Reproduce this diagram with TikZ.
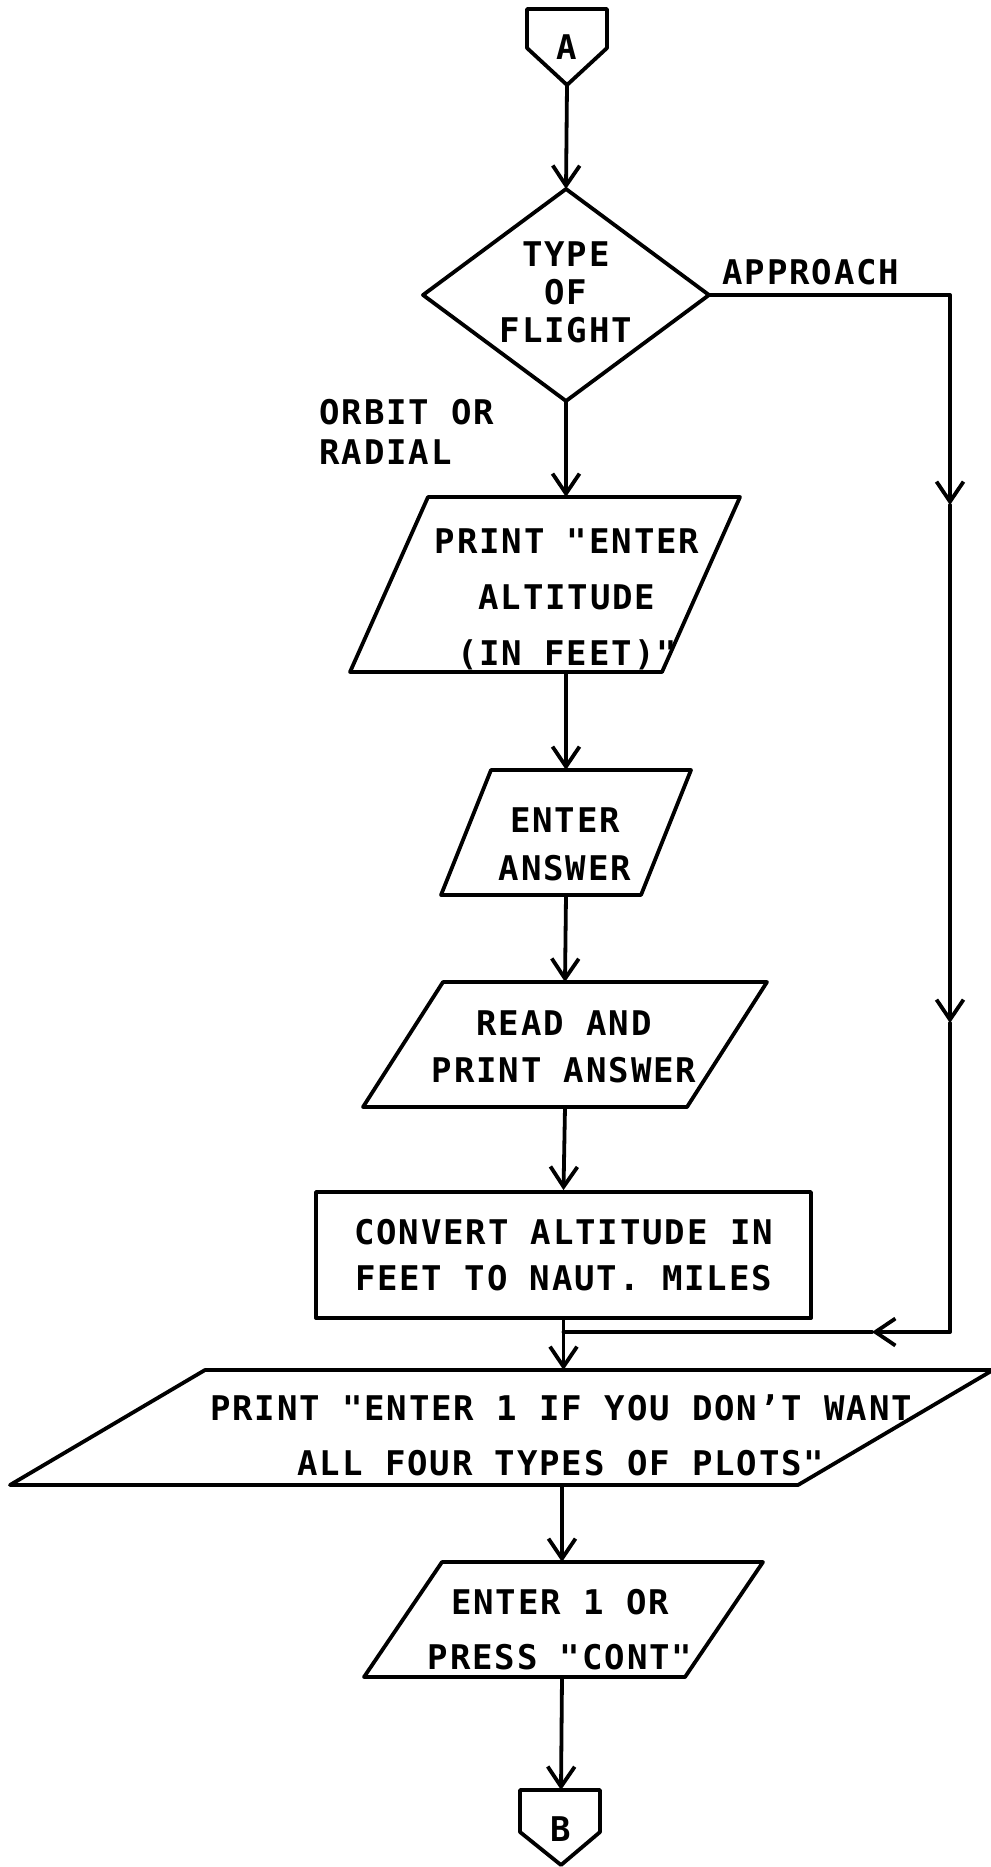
\documentclass[tikz,border=0pt]{standalone}
\usepackage{fontspec}
\usetikzlibrary{arrows.meta}
\newfontfamily\plotfont{DejaVu Sans Mono}[LetterSpace=5.5]

\tikzset{
  flow/.style={line width=1.9pt, line cap=round, line join=round},
  arr/.style={flow, -{Straight Barb[length=10pt,width=13.5pt]}},
  txt/.style={font=\plotfont\bfseries\fontsize{17pt}{#1}\selectfont,
              align=center, inner sep=0pt},
  txt/.default=20pt,
}

\begin{document}
\begin{tikzpicture}[x=0.5pt,y=-0.5pt]
\useasboundingbox (0,0) rectangle (990,1867);

% off-page connector A
\draw[flow] (527,9) -- (607,9) -- (607,48) -- (567,85) -- (527,48) -- cycle;
\node[txt] (A) at (567,47) {A};
\coordinate (A-out) at (567,85);

% decision: type of flight
\coordinate (d-top) at (566,189);
\coordinate (d-right) at (709,295);
\coordinate (d-bot) at (566,401);
\coordinate (d-left) at (423,295);
\draw[flow] (d-top) -- (d-right) -- (d-bot) -- (d-left) -- cycle;
\node[txt=19pt] (type) at (566,292) {TYPE\\OF\\FLIGHT};

\node[txt] (appr) at (811,272) {APPROACH};
\node[txt=20pt, align=left, anchor=west] (orb) at (319,432) {ORBIT OR\\RADIAL};

% print prompt for altitude
\coordinate (p1-top) at (566,497);
\coordinate (p1-bot) at (566,672);
\draw[flow] (428,497) -- (740,497) -- (662,672) -- (350,672) -- cycle;
\node[txt=28pt] (p1) at (567,599) {PRINT "ENTER\\ALTITUDE\\(IN FEET)"};

% enter answer
\coordinate (p2-top) at (566,770);
\coordinate (p2-bot) at (566,895);
\draw[flow] (491,770) -- (691,770) -- (641,895) -- (441,895) -- cycle;
\node[txt=24pt] (p2) at (565,844) {ENTER\\ANSWER};

% read and print answer
\coordinate (p3-top) at (565,982);
\coordinate (p3-bot) at (565,1107);
\draw[flow] (443,982) -- (767,982) -- (687,1107) -- (363,1107) -- cycle;
\node[txt=23.5pt] (p3) at (564,1046.5) {READ AND\\PRINT ANSWER};

% conversion step
\node[txt=23pt, draw, flow, minimum width=247.5pt, minimum height=63pt]
  (conv) at (563.5,1255) {CONVERT ALTITUDE IN\\FEET TO NAUT. MILES};

% print prompt for plot choice
\coordinate (p4-top) at (563.5,1370);
\coordinate (p4-bot) at (562,1485);
\draw[flow] (205,1370) -- (993,1370) -- (798,1485) -- (10,1485) -- cycle;
\node[txt=27.5pt] (p4) at (561,1435.5)
  {PRINT "ENTER 1 IF YOU DON’T WANT\\ALL FOUR TYPES OF PLOTS"};

% enter 1 or press cont
\coordinate (p5-top) at (562,1562);
\coordinate (p5-bot) at (562,1677);
\draw[flow] (442,1562) -- (763,1562) -- (685,1677) -- (364,1677) -- cycle;
\node[txt=27.5pt] (p5) at (560,1629.5) {ENTER 1 OR\\PRESS "CONT"};

% off-page connector B
\coordinate (B-in) at (561,1790);
\draw[flow] (520,1790) -- (600,1790) -- (600,1832) -- (561,1865) -- (520,1832) -- cycle;
\node[txt] (B) at (561,1829) {B};

% main flow
\draw[arr] (A-out) -- (d-top);
\draw[arr] (d-bot) -- (p1-top);
\draw[arr] (p1-bot) -- (p2-top);
\draw[arr] (p2-bot) -- (p3-top);
\draw[arr] (p3-bot) -- (conv.north);
\draw[arr] (conv.south) -- (p4-top);
\draw[arr] (p4-bot) -- (p5-top);
\draw[arr] (p5-bot) -- (B-in);

% approach branch
\coordinate (r-top) at (950,295);
\coordinate (r-m1) at (950,505);
\coordinate (r-m2) at (950,1023);
\coordinate (r-bot) at (950,1332);
\coordinate (r-m3) at (872,1332);
\coordinate (join) at (563.5,1332);
\draw[arr] (d-right) -- (r-top) -- (r-m1);
\draw[arr] (r-m1) -- (r-m2);
\draw[arr] (r-m2) -- (r-bot) -- (r-m3);
\draw[flow] (r-m3) -- (join);
\end{tikzpicture}
\end{document}
